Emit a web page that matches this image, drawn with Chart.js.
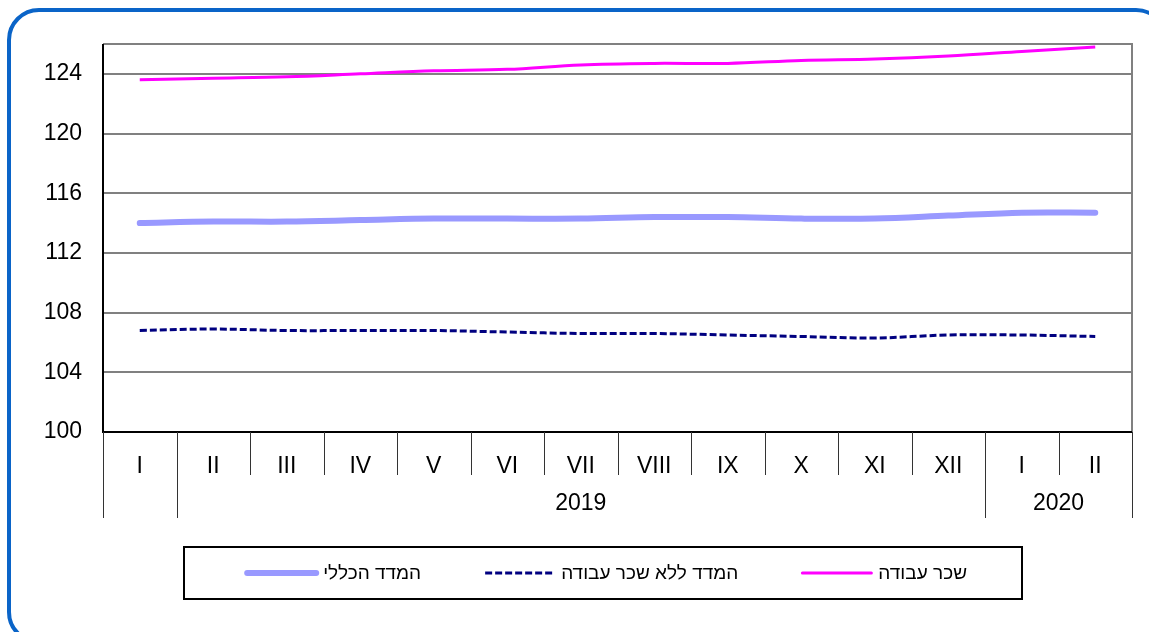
<!DOCTYPE html>
<html>
<head>
<meta charset="utf-8">
<script src="https://cdn.jsdelivr.net/npm/chart.js@4/dist/chart.umd.min.js"></script>
<style>
  html, body { margin: 0; padding: 0; background: #fff; overflow: hidden; }
  #indexChart { display: block; }
</style>
</head>
<body>
<canvas id="indexChart" width="1149" height="632"></canvas>
<script>
// months on the axis (first I = Jan 2018 column, no year label shown)
const months = ['I', 'II', 'III', 'IV', 'V', 'VI', 'VII', 'VIII', 'IX', 'X', 'XI', 'XII', 'I', 'II'];
const yearLabels = ['', '2019', '2020'];
const yearSpans = [1, 11, 2];

const generalIndex = [114.0, 114.1, 114.1, 114.2, 114.3, 114.3, 114.3, 114.4, 114.4, 114.3, 114.3, 114.5, 114.7, 114.7];
const indexNoWages = [106.8, 106.9, 106.8, 106.8, 106.8, 106.7, 106.6, 106.6, 106.5, 106.4, 106.3, 106.5, 106.5, 106.4];
const wages = [123.6, 123.7, 123.8, 124.0, 124.2, 124.3, 124.6, 124.7, 124.7, 124.9, 125.0, 125.2, 125.5, 125.8];

const yTicks = [100, 104, 108, 112, 116, 120, 124];

const FONT = 'Arial, "Liberation Sans", sans-serif';

// rounded blue frame, partly outside the canvas on the right and bottom
const frame = {
    id: 'frame',
    beforeDraw(chart) {
        const ctx = chart.ctx;
        const l = 9, t = 10, r = 1166, b = 642, rad = 30;
        ctx.save();
        ctx.strokeStyle = '#0a64c8';
        ctx.lineWidth = 4;
        ctx.beginPath();
        ctx.moveTo(l + rad, t);
        ctx.arcTo(r, t, r, b, rad);
        ctx.arcTo(r, b, l, b, rad);
        ctx.arcTo(l, b, l, t, rad);
        ctx.arcTo(l, t, r, t, rad);
        ctx.closePath();
        ctx.stroke();
        ctx.restore();
    }
};

// plot border, category dividers, year row and legend box
const extras = {
    id: 'extras',
    beforeDatasetsDraw(chart) {
        const { ctx, chartArea: a } = chart;
        ctx.save();
        ctx.strokeStyle = '#808080';
        ctx.lineWidth = 2;
        ctx.beginPath();
        ctx.moveTo(a.left, a.top);
        ctx.lineTo(a.right, a.top);
        ctx.lineTo(a.right, a.bottom);
        ctx.stroke();
        ctx.strokeStyle = '#000';
        ctx.beginPath();
        ctx.moveTo(a.left, a.top);
        ctx.lineTo(a.left, a.bottom);
        ctx.lineTo(a.right, a.bottom);
        ctx.stroke();
        ctx.restore();
    },
    afterDraw(chart) {
        const { ctx, chartArea: a, scales: { x } } = chart;
        const edge = i => {
            if (i <= 0) return a.left;
            if (i >= months.length) return a.right;
            return (x.getPixelForValue(i - 1) + x.getPixelForValue(i)) / 2;
        };
        ctx.save();
        ctx.strokeStyle = '#333';
        ctx.lineWidth = 1;
        // month dividers
        for (let i = 0; i <= months.length; i++) {
            const px = Math.round(edge(i)) + 0.5;
            ctx.beginPath();
            ctx.moveTo(px, a.bottom);
            ctx.lineTo(px, a.bottom + 43);
            ctx.stroke();
        }
        // year dividers and labels
        ctx.font = '23px ' + FONT;
        ctx.fillStyle = '#000';
        ctx.textAlign = 'center';
        ctx.textBaseline = 'middle';
        let start = 0;
        for (let k = 0; k <= yearSpans.length; k++) {
            const px = Math.round(edge(start)) + 0.5;
            ctx.beginPath();
            ctx.moveTo(px, a.bottom + 43);
            ctx.lineTo(px, a.bottom + 86);
            ctx.stroke();
            if (k < yearSpans.length) {
                const end = start + yearSpans[k];
                ctx.fillText(yearLabels[k], (edge(start) + edge(end)) / 2, a.bottom + 72);
                start = end;
            }
        }

        // legend
        const box = { left: 184, top: 547, right: 1022, bottom: 599 };
        ctx.strokeStyle = '#000';
        ctx.lineWidth = 2;
        ctx.strokeRect(box.left, box.top, box.right - box.left, box.bottom - box.top);
        const cy = (box.top + box.bottom) / 2;
        ctx.font = '19px ' + FONT;
        ctx.textAlign = 'right';
        let right = box.right - 55;
        // rightmost item is the last dataset
        const order = chart.data.datasets.slice().reverse();
        order.forEach(ds => {
            const w = ctx.measureText(ds.label).width;
            ctx.fillText(ds.label, right, cy + 1);
            const lineEnd = right - w - 7;
            ctx.beginPath();
            ctx.strokeStyle = ds.borderColor;
            ctx.lineWidth = ds.borderWidth;
            ctx.lineCap = ds.borderDash ? 'butt' : 'round';
            ctx.setLineDash(ds.borderDash || []);
            ctx.moveTo(lineEnd - 69, cy);
            ctx.lineTo(lineEnd, cy);
            ctx.stroke();
            ctx.setLineDash([]);
            right = lineEnd - 69 - 64;
        });
        ctx.restore();
    }
};

const ctx = document.getElementById('indexChart').getContext('2d');
const chart = new Chart(ctx, {
    type: 'line',
    data: {
        labels: months,
        datasets: [{
            label: 'המדד הכללי',
            data: generalIndex,
            borderColor: '#9999ff',
            borderWidth: 6,
            borderCapStyle: 'round',
            tension: 0.35
        }, {
            label: 'המדד ללא שכר עבודה',
            data: indexNoWages,
            borderColor: '#000080',
            borderWidth: 3,
            borderDash: [7, 3],
            tension: 0.35
        }, {
            label: 'שכר עבודה',
            data: wages,
            borderColor: '#ff00ff',
            borderWidth: 3,
            tension: 0.35
        }]
    },
    options: {
        responsive: false,
        animation: false,
        devicePixelRatio: 1,
        layout: { padding: { top: 44, right: 17, left: 0, bottom: 0 } },
        elements: { point: { radius: 0 } },
        plugins: {
            legend: { display: false },
            tooltip: { enabled: false }
        },
        scales: {
            x: {
                type: 'category',
                offset: true,
                grid: { display: false },
                border: { display: false },
                ticks: { color: '#000', font: { family: FONT, size: 23 }, padding: 13, maxRotation: 0, autoSkip: false },
                afterFit: s => { s.height = 200; }
            },
            y: {
                min: 100,
                max: 126,
                grid: { color: '#808080', lineWidth: 2, drawTicks: false },
                border: { display: false },
                afterBuildTicks: s => { s.ticks = yTicks.concat([126]).map(v => ({ value: v })); },
                ticks: {
                    color: '#000',
                    font: { family: FONT, size: 23 },
                    padding: 21,
                    callback: v => (yTicks.includes(v) ? v : '')
                },
                afterFit: s => { s.width = 103; }
            }
        }
    },
    plugins: [frame, extras]
});
</script>
</body>
</html>
